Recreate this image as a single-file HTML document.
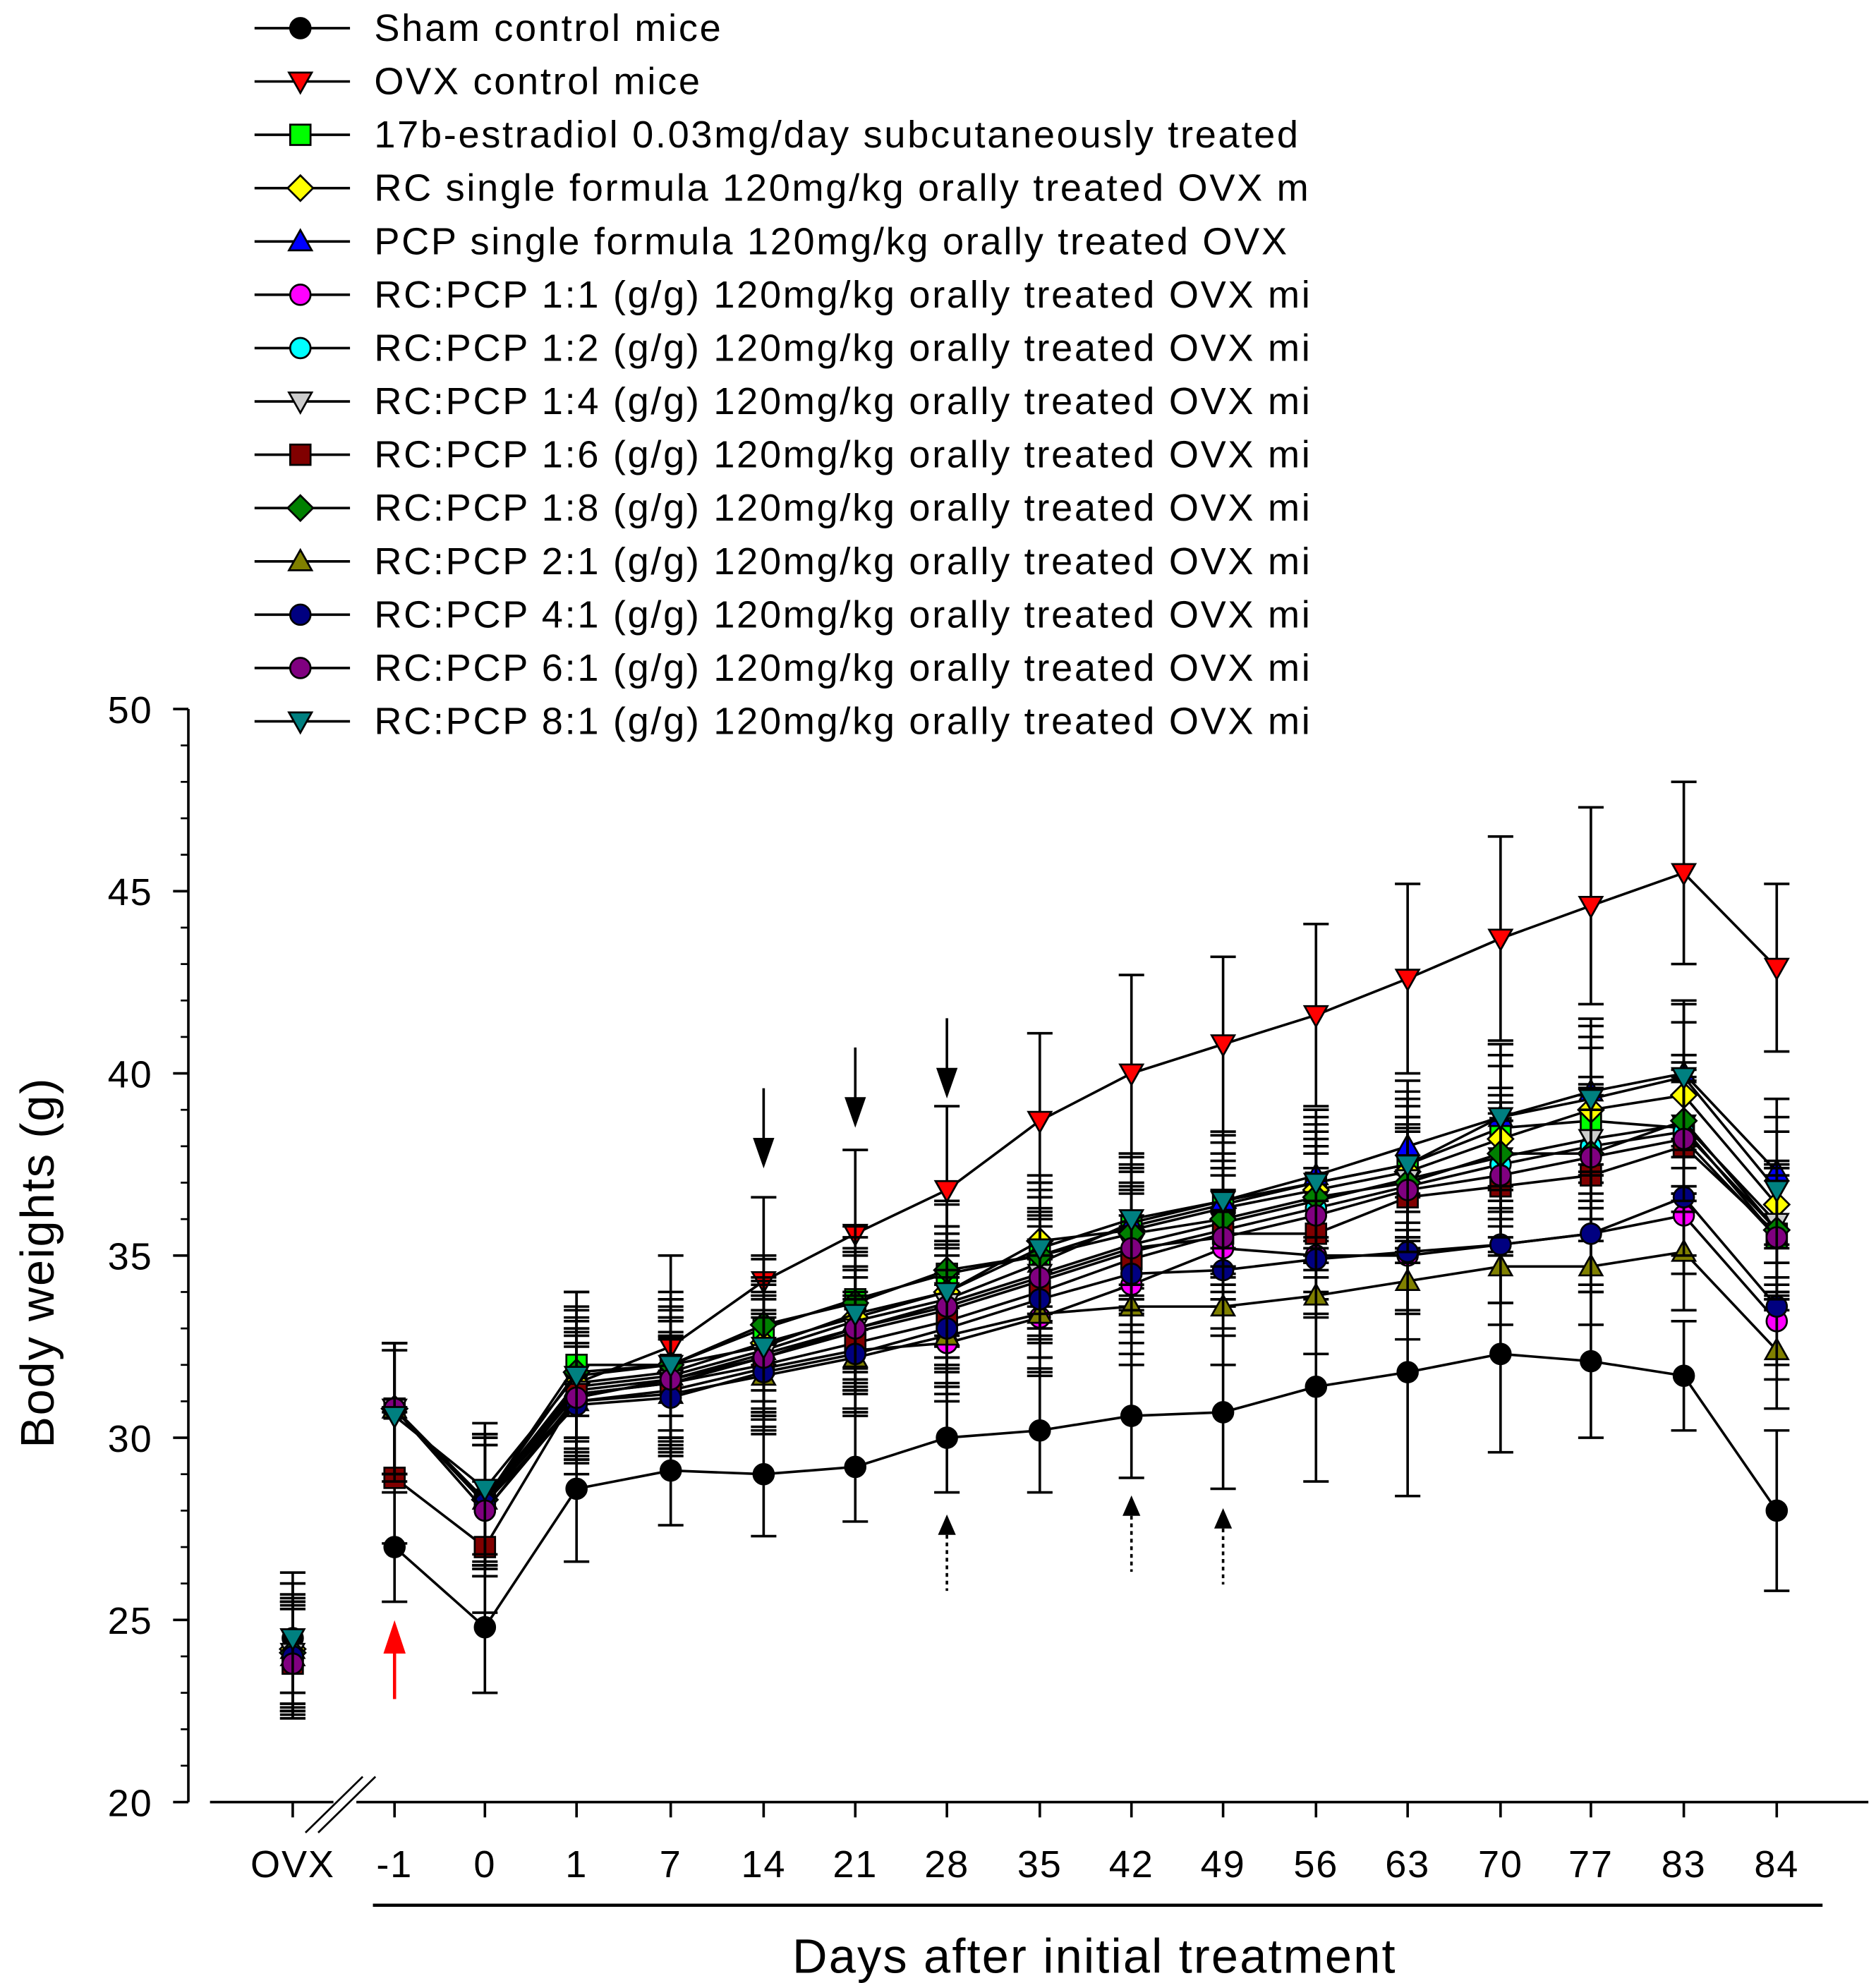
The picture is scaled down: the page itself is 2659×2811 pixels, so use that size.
<!DOCTYPE html>
<html><head><meta charset="utf-8"><style>
html,body{margin:0;padding:0;background:#fff}
svg{display:block}
text{font-family:"Liberation Sans",Arial,sans-serif;fill:#000}
</style></head><body>
<svg id="chart" width="2659" height="2811" viewBox="0 0 1474 1558" xmlns="http://www.w3.org/2000/svg">
<g id="axes"></g>
<g id="series"></g>
<g id="legend"></g>
</svg>
<script>
const categories=["OVX","-1","0","1","7","14","21","28","35","42","49","56","63","70","77","83","84"];
const yTicks=[20,25,30,35,40,45,50];
const seriesNames=["Sham control mice","OVX control mice","17b-estradiol 0.03mg/day subcutaneously treated","RC single formula 120mg/kg orally treated OVX m","PCP single formula 120mg/kg orally treated OVX","RC:PCP 1:1 (g/g) 120mg/kg orally treated OVX mi","RC:PCP 1:2 (g/g) 120mg/kg orally treated OVX mi","RC:PCP 1:4 (g/g) 120mg/kg orally treated OVX mi","RC:PCP 1:6 (g/g) 120mg/kg orally treated OVX mi","RC:PCP 1:8 (g/g) 120mg/kg orally treated OVX mi","RC:PCP 2:1 (g/g) 120mg/kg orally treated OVX mi","RC:PCP 4:1 (g/g) 120mg/kg orally treated OVX mi","RC:PCP 6:1 (g/g) 120mg/kg orally treated OVX mi","RC:PCP 8:1 (g/g) 120mg/kg orally treated OVX mi"];
const seriesColors=["#000","#f00","#0f0","#ff0","#00f","#f0f","#0ff","#ccc","#800000","#008000","#808000","#000080","#800080","#008080"];
const seriesShapes=["circle","tri-down","square","diamond","tri-up","circle","circle","tri-down","square","diamond","tri-up","circle","circle","tri-down"];
const valSham=[24.5,27.0,24.8,28.6,29.1,29.0,29.2,30.0,30.2,30.6,30.7,31.4,31.8,32.3,32.1,31.7,28.0];
const errSham=[1.8,1.5,1.8,2.0,1.5,1.7,1.5,1.5,1.7,1.7,2.1,2.6,3.4,2.7,2.1,1.5,2.2];
const valOVX=[24.5,30.8,28.3,31.5,32.5,34.3,35.6,36.8,38.7,40.0,40.8,41.6,42.6,43.7,44.6,45.5,42.9];
const errOVX=[1.5,1.8,1.8,2.5,2.5,2.3,2.3,2.3,2.4,2.7,2.4,2.5,2.6,2.8,2.7,2.5,2.3];
const valE2=[24.0,30.8,28.3,32.0,32.0,33.0,33.8,34.5,35.0,35.8,36.4,37.0,37.5,38.5,38.7,38.5,35.5];
const errE2=[1.5,1.8,1.8,2.0,2.0,2.0,2.0,2.0,2.0,2.0,2.0,2.0,2.0,2.0,2.0,2.0,2.0];
const valRC=[24.2,30.8,28.3,31.5,31.8,32.6,33.3,34.0,35.4,35.7,36.3,36.8,37.3,38.2,39.0,39.4,36.4];
const errRC=[1.5,1.8,1.8,1.8,1.8,1.8,1.8,1.8,1.8,1.8,1.8,1.8,1.8,2.0,2.0,2.0,2.0];
const valPCP=[24.2,30.8,28.3,31.4,31.7,32.4,33.2,33.8,34.8,35.9,36.5,37.2,38.0,38.8,39.5,40.0,37.3];
const errPCP=[1.5,1.8,1.8,1.8,1.8,1.8,1.8,1.8,1.8,1.8,1.8,1.8,1.8,2.0,2.0,2.0,2.0];
const val11=[23.9,30.8,28.0,31.0,31.3,31.9,32.4,32.6,33.3,34.2,35.2,35.0,35.0,35.3,35.6,36.1,33.2];
const err11=[1.5,1.8,1.8,1.6,1.6,1.6,1.6,1.6,1.6,1.6,1.6,1.6,1.6,1.6,1.6,1.6,1.6];
const val12=[24.0,30.8,28.2,31.2,31.5,32.2,32.9,33.5,34.3,35.1,35.7,36.3,36.9,37.5,38.0,38.4,35.7];
const err12=[1.5,1.8,1.8,1.7,1.7,1.7,1.7,1.7,1.7,1.7,1.7,1.7,1.7,1.7,1.7,1.7,1.7];
const val14=[24.1,30.8,28.3,31.3,31.6,32.3,33.0,33.7,34.5,35.3,35.9,36.5,37.1,37.7,38.2,38.6,35.9];
const err14=[1.5,1.8,1.8,1.7,1.7,1.7,1.7,1.7,1.7,1.7,1.7,1.7,1.7,1.7,1.7,1.7,1.7];
const val16=[23.8,28.9,27.0,31.2,31.5,32.0,32.6,33.2,34.0,34.9,35.6,35.6,36.6,36.9,37.2,38.0,35.6];
const err16=[1.5,1.8,1.8,1.8,1.8,1.8,1.8,1.8,1.8,1.8,1.8,1.8,1.8,1.8,1.8,1.8,1.8];
const val18=[24.1,30.8,28.3,31.8,32.0,33.1,33.7,34.6,35.0,35.6,36.0,36.6,37.0,37.8,37.8,38.7,35.7];
const err18=[1.5,1.8,1.8,1.8,1.8,1.8,1.8,1.8,1.8,1.8,1.8,1.8,1.8,1.8,1.8,1.8,1.8];
const val21=[24.0,30.8,28.3,31.0,31.2,31.7,32.2,32.8,33.4,33.6,33.6,33.9,34.3,34.7,34.7,35.1,32.4];
const err21=[1.5,1.8,1.8,1.6,1.6,1.6,1.6,1.6,1.6,1.6,1.6,1.6,1.6,1.6,1.6,1.6,1.6];
const val41=[24.0,30.8,28.2,30.9,31.1,31.8,32.3,33.0,33.8,34.5,34.6,34.9,35.1,35.3,35.6,36.6,33.6];
const err41=[1.5,1.8,1.8,1.6,1.6,1.6,1.6,1.6,1.6,1.6,1.6,1.6,1.6,1.6,1.6,1.6,1.6];
const val61=[23.8,30.8,28.0,31.1,31.6,32.2,33.0,33.6,34.4,35.2,35.5,36.1,36.8,37.2,37.7,38.2,35.5];
const err61=[1.5,1.8,1.8,1.7,1.7,1.7,1.7,1.7,1.7,1.7,1.7,1.7,1.7,1.7,1.7,1.7,1.7];
const val81=[24.5,30.6,28.6,31.7,32.0,32.5,33.4,34.0,35.2,36.0,36.5,37.0,37.5,38.8,39.3,39.9,36.8];
const err81=[1.5,1.8,1.8,1.8,1.8,1.8,1.8,1.8,1.8,1.8,1.8,1.8,1.8,2.0,2.0,2.0,2.0];
const allVals=[valSham,valOVX,valE2,valRC,valPCP,val11,val12,val14,val16,val18,val21,val41,val61,val81];
const allErrs=[errSham,errOVX,errE2,errRC,errPCP,err11,err12,err14,err16,err18,err21,err41,err61,err81];
const downArrowDays=["14","21","28"];
const dottedArrowDays=["28","42","49"];

const NS="http://www.w3.org/2000/svg";
const xPos=[230,310,381,453,527,600,672,744,817,889,961,1034,1106,1179,1250,1323,1396];
function xScale(i){return xPos[i];}
function yScale(v){return 1416-(v-20)*(859/30);}
function el(tag,attrs,parent,txt){const e=document.createElementNS(NS,tag);for(const k in attrs)e.setAttribute(k,attrs[k]);if(txt!==undefined)e.textContent=txt;parent.appendChild(e);return e;}
const axes=document.getElementById('axes'),ser=document.getElementById('series'),leg=document.getElementById('legend');

let ya=el('line',{x1:148,y1:557,x2:148,y2:1416,stroke:'#000','stroke-width':2},axes);


yTicks.forEach(t=>{const y=yScale(t);el('line',{x1:136,y1:y,x2:148,y2:y,stroke:'#000','stroke-width':2},axes);
 const lb=el('text',{x:120,y:y+11,'font-size':30,'text-anchor':'end','letter-spacing':1},axes,String(t));
 
 });
for(let v=21;v<50;v++){if(v%5){const y=yScale(v);el('line',{x1:142,y1:y,x2:148,y2:y,stroke:'#000','stroke-width':1.5},axes);}}
let xa=el('path',{d:'M165 1416H262 M280 1416H1468',stroke:'#000','stroke-width':2,fill:'none'},axes);


el('path',{d:'M240 1440L285 1396 M250 1440L295 1396',stroke:'#000','stroke-width':1.5},axes);
categories.forEach((c,i)=>{const x=xScale(i);el('line',{x1:x,y1:1416,x2:x,y2:1428,stroke:'#000','stroke-width':2},axes);
 const lb=el('text',{x:x,y:1475,'font-size':30,'text-anchor':'middle','letter-spacing':1},axes,c);
 
 });
el('line',{x1:293,y1:1497,x2:1432,y2:1497,stroke:'#000','stroke-width':2.5},axes);
let xt=el('text',{x:860,y:1550,'font-size':38,'text-anchor':'middle','letter-spacing':1.2},axes,'Days after initial treatment');


let yt=el('text',{x:0,y:0,'font-size':37,'text-anchor':'middle','letter-spacing':1,transform:'translate(42,992) rotate(-90)'},axes,'Body weights (g)');



function marker(shape,x,y,fill,parent){const r=8;let m;
 if(shape==='circle')m=el('circle',{cx:x,cy:y,r:r},parent);
 else if(shape==='square')m=el('rect',{x:x-r,y:y-r,width:2*r,height:2*r},parent);
 else if(shape==='diamond')m=el('polygon',{points:`${x},${y-r-2} ${x+r+2},${y} ${x},${y+r+2} ${x-r-2},${y}`},parent);
 else if(shape==='tri-up')m=el('polygon',{points:`${x},${y-r-1} ${x+r+1},${y+r-1} ${x-r-1},${y+r-1}`},parent);
 else m=el('polygon',{points:`${x},${y+r+1} ${x+r+1},${y-r+1} ${x-r-1},${y-r+1}`},parent);
 m.setAttribute('fill',fill);m.setAttribute('stroke','#000');m.setAttribute('stroke-width',1.5);return m;}

allVals.forEach((vals,s)=>{
 const g=el('g',{},ser);
 
 
 const errs=allErrs[s];
 vals.forEach((v,i)=>{const x=xScale(i),y1=yScale(v+errs[i]),y2=yScale(v-errs[i]);
  el('path',{d:`M${x} ${y1}V${y2}M${x-10} ${y1}H${x+10}M${x-10} ${y2}H${x+10}`,stroke:'#000','stroke-width':2,fill:'none'},g);});
 let d='';vals.forEach((v,i)=>{if(i>=1)d+=(i===1?'M':'L')+xScale(i)+' '+yScale(v);});
 el('path',{d:d,stroke:'#000','stroke-width':2,fill:'none'},g);
 vals.forEach((v,i)=>{const m=marker(seriesShapes[s],xScale(i),yScale(v),seriesColors[s],g);
  
  });
});

downArrowDays.forEach((d,k)=>{const x=xScale(categories.indexOf(d));const top=[855,823,800][k];
 const a=el('path',{d:`M${x} ${top}V${top+58}M${x-7} ${top+40}L${x} ${top+60}L${x+7} ${top+40}Z`,stroke:'#000','stroke-width':2,fill:'#000'},ser);
 
 });
dottedArrowDays.forEach((d,k)=>{const x=xScale(categories.indexOf(d));const top=[1190,1175,1185][k];
 const a=el('g',{},ser);
 
 
 el('polygon',{points:`${x},${top} ${x+7},${top+16} ${x-7},${top+16}`,fill:'#000'},a);
 el('line',{x1:x,y1:top+16,x2:x,y2:top+60,stroke:'#000','stroke-width':2,'stroke-dasharray':'3,3'},a);});
let ra=el('path',{d:'M310 1335V1290M303 1298L310 1277L317 1298Z',stroke:'#f00','stroke-width':2.5,fill:'#f00'},ser);



seriesNames.forEach((n,s)=>{const y=22+s*41.9;
 const g=el('g',{},leg);
 
 
 el('line',{x1:200,y1:y,x2:275,y2:y,stroke:'#000','stroke-width':2},g);
 marker(seriesShapes[s],236,y,seriesColors[s],g);
 el('text',{x:294,y:y+10,'font-size':30,'letter-spacing':1.5},g,n);});
</script>
</body></html>
